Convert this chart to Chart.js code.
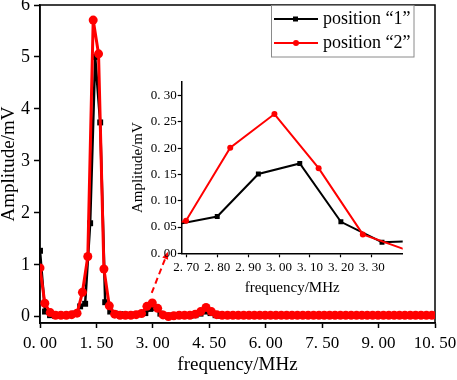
<!DOCTYPE html>
<html lang="en">
<head>
<meta charset="UTF-8">
<title>Amplitude spectrum</title>
<script src="https://cdn.jsdelivr.net/npm/chart.js"></script>
<style>
  body { margin: 0; background: #fff; }
  #wrap { position: relative; width: 457px; height: 380px; }
  #mainChart { position: absolute; left: 0; top: 0; }
  #insetChart { position: absolute; left: 120px; top: 70px; }
</style>
</head>
<body>
<div id="wrap">
  <canvas id="mainChart" width="457" height="380"></canvas>
  <canvas id="insetChart" width="300" height="230"></canvas>
</div>
<script>
// position "1" (black squares)
const freq1 = [0.000, 0.133, 0.267, 0.400, 0.533, 0.667, 0.800, 0.933, 1.067, 1.200,
  1.333, 1.467, 1.600, 1.733, 1.867, 2.000, 2.133, 2.267, 2.400, 2.533,
  2.667, 2.800, 2.933, 3.067, 3.200, 3.333, 3.467, 3.600, 3.733, 3.867,
  4.000, 4.133, 4.267, 4.400, 4.533, 4.667, 4.800, 4.933, 5.067, 5.200,
  5.333, 5.467, 5.600, 5.733, 5.867, 6.000, 6.133, 6.267, 6.400, 6.533,
  6.667, 6.800, 6.933, 7.067, 7.200, 7.333, 7.467, 7.600, 7.733, 7.867,
  8.000, 8.133, 8.267, 8.400, 8.533, 8.667, 8.800, 8.933, 9.067, 9.200,
  9.333, 9.467, 9.600, 9.733, 9.867, 10.000, 10.133, 10.267, 10.400, 10.533];
const amp1 = [1.27, 0.10, 0.03, 0.02, 0.02, 0.02, 0.03, 0.06, 0.20, 0.25,
  1.80, 5.00, 3.74, 0.28, 0.10, 0.06, 0.05, 0.04, 0.03, 0.04,
  0.055, 0.070, 0.151, 0.171, 0.060, 0.021, 0.024, 0.02, 0.02, 0.02,
  0.02, 0.03, 0.06, 0.10, 0.07, 0.03, 0.02, 0.02, 0.02, 0.02,
  0.02, 0.02, 0.02, 0.02, 0.02, 0.02, 0.02, 0.02, 0.02, 0.02,
  0.02, 0.02, 0.02, 0.02, 0.02, 0.02, 0.02, 0.02, 0.02, 0.02,
  0.02, 0.02, 0.02, 0.02, 0.02, 0.02, 0.02, 0.02, 0.02, 0.02,
  0.02, 0.02, 0.02, 0.02, 0.02, 0.02, 0.02, 0.02, 0.02, 0.02];

// position "2" (red circles)
const freq2 = [0.000, 0.128, 0.271, 0.414, 0.556, 0.699, 0.842, 0.985, 1.128, 1.271,
  1.414, 1.556, 1.699, 1.842, 1.985, 2.128, 2.271, 2.414, 2.556, 2.699,
  2.842, 2.985, 3.128, 3.271, 3.414, 3.556, 3.699, 3.842, 3.985, 4.128,
  4.271, 4.414, 4.556, 4.699, 4.842, 4.985, 5.128, 5.271, 5.414, 5.556,
  5.699, 5.842, 5.985, 6.128, 6.271, 6.414, 6.556, 6.699, 6.842, 6.985,
  7.128, 7.271, 7.414, 7.556, 7.699, 7.842, 7.985, 8.128, 8.271, 8.414,
  8.556, 8.699, 8.842, 8.985, 9.128, 9.271, 9.414, 9.556, 9.699, 9.842,
  9.985, 10.128, 10.271, 10.414, 10.556];
const amp2 = [0.94, 0.26, 0.08, 0.03, 0.03, 0.03, 0.04, 0.07, 0.47, 1.16,
  5.71, 5.06, 0.92, 0.21, 0.05, 0.03, 0.03, 0.03, 0.04, 0.062,
  0.201, 0.265, 0.162, 0.036, 0.006, 0.02, 0.03, 0.03, 0.03, 0.05,
  0.10, 0.18, 0.10, 0.04, 0.03, 0.03, 0.03, 0.03, 0.03, 0.03,
  0.03, 0.03, 0.03, 0.03, 0.03, 0.03, 0.03, 0.03, 0.03, 0.03,
  0.03, 0.03, 0.03, 0.03, 0.03, 0.03, 0.03, 0.03, 0.03, 0.03,
  0.03, 0.03, 0.03, 0.03, 0.03, 0.03, 0.03, 0.03, 0.03, 0.03,
  0.03, 0.03, 0.03, 0.03, 0.03];

const seriesNames = ['position \u201c1\u201d', 'position \u201c2\u201d'];

const mainXTicks = [0, 1.5, 3.0, 4.5, 6.0, 7.5, 9.0, 10.5];
const mainYTicks = [0, 1, 2, 3, 4, 5, 6];
const insetXTicks = [2.7, 2.8, 2.9, 3.0, 3.1, 3.2, 3.3];
const insetYTicks = [0, 0.05, 0.10, 0.15, 0.20, 0.25, 0.30];

// dashed arrow pointing to the zoomed region (data coords)
const arrowFrom = [2.97, 0.46];
const arrowTo = [3.40, 1.25];

Chart.defaults.font.family = '"Liberation Serif", "DejaVu Serif", serif';
Chart.defaults.color = '#000';

const toPoints = (xs, ys) => xs.map((x, i) => ({ x: x, y: ys[i] }));
const fmt2 = v => v.toFixed(2).replace('.', '. ');

function makeDatasets(small) {
  return [
    {
      label: seriesNames[0], data: toPoints(freq1, amp1),
      borderColor: '#000', backgroundColor: '#000',
      borderWidth: small ? 2 : 2.5, pointStyle: 'rect', pointRadius: small ? 3.5 : 4.2,
      pointBorderWidth: 0, order: 1
    },
    {
      label: seriesNames[1], data: toPoints(freq2, amp2),
      borderColor: '#ff0000', backgroundColor: '#ff0000',
      borderWidth: small ? 2 : 3, pointStyle: 'circle', pointRadius: small ? 3 : 4.5,
      pointBorderWidth: 0, order: 0
    }
  ];
}

const framePlugin = {
  id: 'frame',
  beforeDatasetsDraw(chart) {
    const a = chart.chartArea, ctx = chart.ctx;
    ctx.save();
    ctx.strokeStyle = '#000';
    ctx.lineWidth = 1.5;
    ctx.strokeRect(a.left, a.top, a.right - a.left, a.bottom - a.top);
    ctx.restore();
  }
};

const legendPlugin = {
  id: 'boxLegend',
  afterDatasetsDraw(chart) {
    const a = chart.chartArea, ctx = chart.ctx;
    const x0 = a.right - 164, y0 = a.top, w = 142.5, h = 51.5;
    ctx.save();
    ctx.fillStyle = '#fff';
    ctx.fillRect(x0, y0, w, h);
    ctx.strokeStyle = '#8a8a8a';
    ctx.lineWidth = 1;
    ctx.strokeRect(x0 + 0.5, y0 + 0.5, w, h);
    chart.data.datasets.forEach((ds, i) => {
      const y = y0 + 14 + i * 24;
      ctx.strokeStyle = ds.borderColor;
      ctx.lineWidth = 2;
      ctx.beginPath();
      ctx.moveTo(x0 + 3, y);
      ctx.lineTo(x0 + 47, y);
      ctx.stroke();
      ctx.fillStyle = ds.backgroundColor;
      if (ds.pointStyle === 'rect') {
        ctx.fillRect(x0 + 22, y - 2.5, 5, 5);
      } else {
        ctx.beginPath();
        ctx.arc(x0 + 25, y, 3, 0, Math.PI * 2);
        ctx.fill();
      }
      ctx.fillStyle = '#000';
      ctx.font = '18px "Liberation Serif", serif';
      ctx.textBaseline = 'middle';
      ctx.fillText(ds.label, x0 + 52, y);
    });
    ctx.restore();
  }
};

const arrowPlugin = {
  id: 'zoomArrow',
  afterDatasetsDraw(chart) {
    const sx = chart.scales.x, sy = chart.scales.y, ctx = chart.ctx;
    const x1 = sx.getPixelForValue(arrowFrom[0]), y1 = sy.getPixelForValue(arrowFrom[1]);
    const x2 = sx.getPixelForValue(arrowTo[0]), y2 = sy.getPixelForValue(arrowTo[1]);
    const ang = Math.atan2(y2 - y1, x2 - x1);
    const hl = 8;
    ctx.save();
    ctx.strokeStyle = '#ff0000';
    ctx.fillStyle = '#ff0000';
    ctx.lineWidth = 2;
    ctx.setLineDash([6, 4]);
    ctx.beginPath();
    ctx.moveTo(x1, y1);
    ctx.lineTo(x2 - hl * Math.cos(ang), y2 - hl * Math.sin(ang));
    ctx.stroke();
    ctx.setLineDash([]);
    ctx.beginPath();
    ctx.moveTo(x2, y2);
    ctx.lineTo(x2 - hl * Math.cos(ang - 0.4), y2 - hl * Math.sin(ang - 0.4));
    ctx.lineTo(x2 - hl * Math.cos(ang + 0.4), y2 - hl * Math.sin(ang + 0.4));
    ctx.closePath();
    ctx.fill();
    ctx.restore();
  }
};

new Chart(document.getElementById('mainChart'), {
  type: 'line',
  data: { datasets: makeDatasets(false) },
  options: {
    responsive: false,
    animation: false,
    layout: { padding: { left: 0, top: 5, right: 22, bottom: 0 } },
    plugins: { legend: { display: false }, tooltip: { enabled: false } },
    scales: {
      x: {
        type: 'linear', min: 0, max: 10.5,
        afterBuildTicks: s => { s.ticks = mainXTicks.map(v => ({ value: v })); },
        afterFit: s => { s.height = 57; s.paddingLeft = 0; s.paddingRight = 0; },
        ticks: { callback: v => fmt2(v), font: { size: 17 }, padding: 5, maxRotation: 0, autoSkip: false },
        grid: { drawOnChartArea: false, tickLength: 5, tickColor: '#000', tickWidth: 1.5 },
        border: { color: '#000', width: 1.5 },
        title: { display: true, text: 'frequency/MHz', font: { size: 19 }, padding: { top: 0, bottom: 4 } }
      },
      y: {
        min: -0.12, max: 6,
        afterBuildTicks: s => { s.ticks = mainYTicks.map(v => ({ value: v })); },
        afterFit: s => { s.width = 40; s.paddingTop = 0; s.paddingBottom = 0; },
        ticks: { callback: v => String(v), font: { size: 18 }, padding: 4 },
        grid: { drawOnChartArea: false, tickLength: 6, tickColor: '#000', tickWidth: 1.5 },
        border: { color: '#000', width: 1.5 },
        title: { display: true, text: 'Amplitude/mV', font: { size: 19, lineHeight: 1 }, padding: { top: 0, bottom: 0 } }
      }
    }
  },
  plugins: [framePlugin, legendPlugin, arrowPlugin]
});

new Chart(document.getElementById('insetChart'), {
  type: 'line',
  data: { datasets: makeDatasets(true) },
  options: {
    responsive: false,
    animation: false,
    layout: { padding: { left: 0, top: 12, right: 17.3, bottom: 0 } },
    plugins: { legend: { display: false }, tooltip: { enabled: false } },
    scales: {
      x: {
        type: 'linear', min: 2.685, max: 3.40,
        afterBuildTicks: s => { s.ticks = insetXTicks.map(v => ({ value: v })); },
        afterFit: s => { s.height = 46.7; s.paddingLeft = 0; s.paddingRight = 0; },
        ticks: { callback: v => fmt2(v), font: { size: 13 }, padding: 2, maxRotation: 0, autoSkip: false },
        grid: { drawOnChartArea: false, tickLength: 4, tickColor: '#000', tickWidth: 1.2 },
        border: { color: '#000', width: 1.5 },
        title: { display: true, text: 'frequency/MHz', font: { size: 15 }, padding: { top: 0, bottom: 3 } }
      },
      y: {
        min: 0, max: 0.326,
        afterBuildTicks: s => { s.ticks = insetYTicks.map(v => ({ value: v })); },
        afterFit: s => { s.width = 61.7; s.paddingTop = 0; s.paddingBottom = 0; },
        ticks: { callback: v => fmt2(v), font: { size: 13 }, padding: 1 },
        grid: { drawOnChartArea: false, tickLength: 4, tickColor: '#000', tickWidth: 1.2 },
        border: { color: '#000', width: 1.5 },
        title: { display: true, text: 'Amplitude/mV', font: { size: 15 }, padding: { top: 9, bottom: 0 } }
      }
    }
  }
});
</script>
</body>
</html>
